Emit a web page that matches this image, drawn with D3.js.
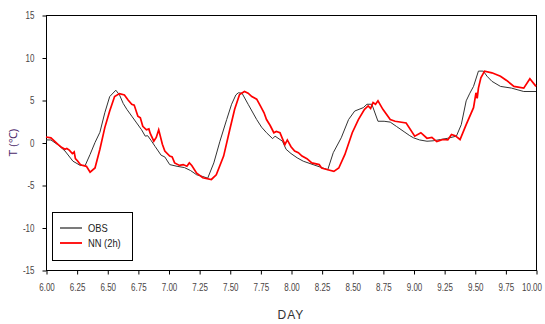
<!DOCTYPE html>
<html>
<head>
<meta charset="utf-8">
<script src="https://cdn.jsdelivr.net/npm/d3@7"></script>
<style>
  html, body { margin: 0; padding: 0; background: #fff; }
  svg { display: block; }
</style>
</head>
<body>
<svg id="chart" width="545" height="324"></svg>
<script>
// Observed temperature (day, °C)
const obsDay = [6.00, 6.04, 6.10, 6.155, 6.22, 6.28, 6.32, 6.36, 6.40, 6.44, 6.48, 6.52, 6.57, 6.60, 6.63, 6.66, 6.70, 6.74, 6.78, 6.81, 6.83, 6.86, 6.89, 6.94, 6.97,
  7.01, 7.07, 7.13, 7.18, 7.23, 7.28, 7.32, 7.37, 7.42, 7.475, 7.515, 7.55, 7.57, 7.60, 7.65, 7.72, 7.76, 7.80, 7.85, 7.87, 7.93, 7.96,
  8.00, 8.05, 8.10, 8.18, 8.24, 8.30, 8.345, 8.41, 8.47, 8.52, 8.59, 8.62, 8.66, 8.71, 8.76, 8.81, 8.86, 8.93, 8.97,
  9.00, 9.05, 9.11, 9.16, 9.22, 9.28, 9.35, 9.39, 9.43, 9.46, 9.49, 9.53, 9.57, 9.60, 9.64, 9.71, 9.80, 9.90, 10.00];
const obsT = [0.3, 0.3, -0.3, -1.0, -2.2, -2.7, -2.7, -1.4, 0.0, 1.2, 3.5, 5.4, 6.15, 5.6, 4.6, 3.9, 3.1, 2.3, 1.5, 0.75, 0.8, 0.2, -0.45, -1.5, -1.7,
  -2.6, -2.8, -2.95, -3.3, -3.8, -4.0, -4.2, -2.4, 0.15, 2.7, 4.5, 5.6, 5.85, 5.8, 4.5, 2.7, 1.8, 1.15, 0.45, 0.75, 0.15, -0.8,
  -1.3, -1.8, -2.2, -2.6, -2.9, -3.2, -1.2, 0.55, 2.7, 3.7, 4.1, 4.5, 4.5, 2.5, 2.5, 2.4, 1.9, 1.2, 0.8,
  0.55, 0.3, 0.15, 0.2, 0.35, 0.5, 0.75, 2.1, 4.9, 5.8, 6.6, 8.4, 8.4, 7.8, 7.2, 6.6, 6.4, 6.0, 6.0];

// Neural-network forecast, 2 h ahead (day, °C)
const nnDay = [6.00, 6.04, 6.10, 6.13, 6.155, 6.17, 6.19, 6.215, 6.23, 6.24, 6.26, 6.28, 6.30, 6.33, 6.36, 6.40, 6.44, 6.48, 6.52, 6.56, 6.60, 6.64, 6.67, 6.70, 6.72, 6.75, 6.77, 6.79, 6.82, 6.84, 6.85, 6.88, 6.90, 6.92, 6.95, 6.97,
  7.01, 7.03, 7.05, 7.09, 7.12, 7.15, 7.17, 7.19, 7.23, 7.28, 7.35, 7.39, 7.45, 7.50, 7.54, 7.58, 7.62, 7.65, 7.68, 7.72, 7.75, 7.78, 7.80, 7.83, 7.86, 7.88, 7.91, 7.95, 7.97,
  8.00, 8.03, 8.06, 8.09, 8.13, 8.17, 8.23, 8.25, 8.30, 8.35, 8.39, 8.44, 8.50, 8.55, 8.60, 8.63, 8.65, 8.67, 8.69, 8.71, 8.75, 8.81, 8.85, 8.94,
  9.01, 9.06, 9.11, 9.15, 9.19, 9.24, 9.28, 9.31, 9.34, 9.38, 9.43, 9.49, 9.51, 9.52, 9.53, 9.55, 9.58, 9.64, 9.71, 9.76, 9.82, 9.90, 9.95, 10.00];
const nnT = [0.65, 0.55, -0.25, -0.6, -0.8, -0.7, -0.9, -1.3, -1.1, -1.9, -2.2, -2.6, -2.7, -2.8, -3.5, -3.0, -0.8, 1.75, 3.7, 5.4, 5.75, 5.6, 5.0, 4.5, 4.4, 3.1, 2.9, 1.9, 1.5, 1.6, 1.1, 0.15, 0.6, 1.5, -0.2, -1.0,
  -1.6, -1.7, -2.4, -2.7, -2.6, -2.8, -2.4, -2.7, -3.6, -4.15, -4.35, -3.8, -1.6, 1.5, 3.9, 5.65, 6.0, 5.8, 5.4, 5.1, 4.3, 3.5, 2.7, 2.0, 1.15, 1.3, 1.15, -0.25, 0.3,
  -0.5, -1.0, -1.2, -1.6, -1.9, -2.4, -2.6, -3.0, -3.2, -3.4, -3.0, -1.4, 1.15, 2.7, 3.9, 4.3, 4.0, 4.7, 4.5, 4.9, 3.9, 2.7, 2.5, 2.3,
  0.75, 1.15, 0.5, 0.6, 0.1, 0.35, 0.3, 0.95, 0.8, 0.35, 2.1, 4.1, 5.85, 5.2, 6.4, 7.6, 8.4, 8.2, 7.8, 7.3, 6.6, 6.4, 7.5, 6.6];

const xTicks = [6.00, 6.25, 6.50, 6.75, 7.00, 7.25, 7.50, 7.75, 8.00, 8.25, 8.50, 8.75, 9.00, 9.25, 9.50, 9.75, 10.00];
const yTicks = [-15, -10, -5, 0, 5, 10, 15];
const legendLabels = ["OBS", "NN (2h)"];
const seriesColors = ["#333333", "#ff0000"];

const svg = d3.select("#chart");
const margin = { left: 46, right: 9, top: 15, bottom: 54 };
const W = 545, H = 324;
const x = d3.scaleLinear().domain([6, 10]).range([margin.left, W - margin.right]);
const y = d3.scaleLinear().domain([-15, 15]).range([H - margin.bottom, margin.top]);

const font = "Liberation Sans, Arial, sans-serif";
// squeeze text horizontally to a narrow face
function narrow(sel, k) {
  sel.each(function () {
    const w = this.getComputedTextLength();
    d3.select(this).attr("textLength", w * k).attr("lengthAdjust", "spacingAndGlyphs");
  });
}

// frame
svg.append("rect")
  .attr("x", x(6) + 0.5).attr("y", y(15) + 0.5)
  .attr("width", x(10) - x(6)).attr("height", y(-15) - y(15))
  .attr("fill", "none").attr("stroke", "#000").attr("stroke-width", 1);

// axes (plain hyphen for negatives)
const yFmt = d => String(d);
const xAxis = svg.append("g")
  .attr("transform", `translate(0.5,${y(-15) + 0.5})`)
  .call(d3.axisBottom(x).tickValues(xTicks).tickFormat(d3.format(".2f")).tickSize(4).tickPadding(9));
const yAxis = svg.append("g")
  .attr("transform", `translate(${x(6) + 0.5},0.5)`)
  .call(d3.axisLeft(y).tickValues(yTicks).tickFormat(yFmt).tickSize(4).tickPadding(8));
[xAxis, yAxis].forEach(g => {
  g.select(".domain").remove();
  g.selectAll(".tick line").attr("stroke", "#000");
  g.selectAll(".tick text").attr("fill", "#4a4444").attr("font-size", 10).attr("font-family", font)
    .call(narrow, 0.8);
});
// keep the last day label inside the page: anchor it by its right edge
xAxis.selectAll(".tick text").filter(d => d === 10)
  .attr("text-anchor", "end").attr("x", 5);

// series
const line = d3.line().x(d => x(d[0])).y(d => y(d[1]));
const obs = obsDay.map((d, i) => [d, obsT[i]]);
const nn = nnDay.map((d, i) => [d, nnT[i]]);
svg.append("path").datum(obs).attr("d", line)
  .attr("fill", "none").attr("stroke", seriesColors[0]).attr("stroke-width", 1);
svg.append("path").datum(nn).attr("d", line)
  .attr("fill", "none").attr("stroke", seriesColors[1]).attr("stroke-width", 1.7);

// axis titles
svg.append("text")
  .attr("x", (x(6) + x(10)) / 2).attr("y", 319)
  .attr("text-anchor", "middle")
  .attr("font-family", font)
  .attr("font-size", 12).attr("letter-spacing", 1)
  .attr("fill", "#333")
  .text("DAY");
svg.append("text")
  .attr("transform", `translate(17,${(y(15) + y(-15)) / 2}) rotate(-90)`)
  .attr("text-anchor", "middle")
  .attr("font-family", font)
  .attr("font-size", 11)
  .attr("fill", "#4b2a6b")
  .text("T (℃)");

// legend
const lg = svg.append("g");
lg.append("rect").attr("x", 52.5).attr("y", 212.5).attr("width", 80).attr("height", 48)
  .attr("fill", "#fff").attr("stroke", "#000").attr("stroke-width", 1);
legendLabels.forEach((lab, i) => {
  const yy = 228 + i * 15;
  lg.append("line").attr("x1", 60).attr("x2", 82).attr("y1", yy).attr("y2", yy)
    .attr("stroke", seriesColors[i]).attr("stroke-width", i === 0 ? 1.3 : 1.8);
  lg.append("text").attr("x", 88).attr("y", yy + 4)
    .attr("font-family", font)
    .attr("font-size", 11).attr("fill", "#222")
    .text(lab)
    .call(narrow, 0.85);
});
</script>
</body>
</html>
